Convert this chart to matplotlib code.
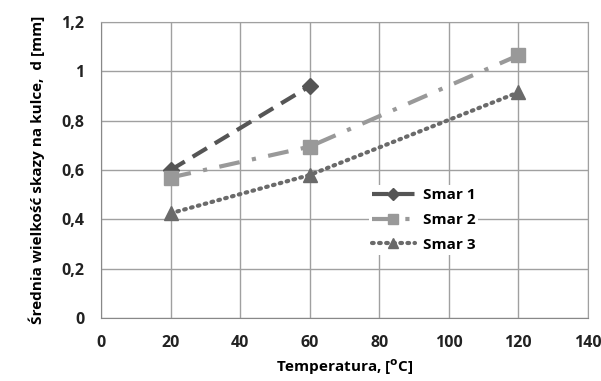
import matplotlib.pyplot as plt
from matplotlib.ticker import FuncFormatter, MultipleLocator

# data
temp_1 = [20, 60]
smar_1 = [0.60, 0.94]
temp_2 = [20, 60, 120]
smar_2 = [0.57, 0.695, 1.065]
temp_3 = [20, 60, 120]
smar_3 = [0.425, 0.58, 0.915]

plt.rcParams['font.family'] = ['Open Sans', 'DejaVu Sans']
plt.rcParams['font.weight'] = 'bold'

fig = plt.figure(figsize=(6.01, 3.81), dpi=100)
ax = fig.add_axes([0.168, 0.165, 0.81, 0.777])

ax.plot(temp_1, smar_1, color='#555555', lw=3, dashes=(4, 2.2),
        marker='D', ms=8, label='Smar 1')
ax.plot(temp_2, smar_2, color='#999999', lw=3, dashes=(5, 3, 1, 3),
        marker='s', ms=10, label='Smar 2')
ax.plot(temp_3, smar_3, color='#6a6a6a', lw=3, dashes=(0.4, 1.3),
        dash_capstyle='round', marker='^', ms=10, label='Smar 3')

ax.set_xlim(0, 140)
ax.set_ylim(0, 1.2)
ax.xaxis.set_major_locator(MultipleLocator(20))
ax.yaxis.set_major_locator(MultipleLocator(0.2))
ax.yaxis.set_major_formatter(FuncFormatter(lambda v, p: f"{v:g}".replace('.', ',')))

ax.grid(True, color='#a0a0a0', lw=1)
ax.set_axisbelow(True)
for s in ax.spines.values():
    s.set_color('#a0a0a0')
ax.spines['left'].set_color('#888888')
ax.spines['bottom'].set_color('#888888')
ax.tick_params(length=0, labelsize=11.5, colors='#222222', pad=12)

ax.set_xlabel('Temperatura, [$^{\\mathrm{o}}$C]', fontsize=11, fontweight='bold', labelpad=5)
ax.set_ylabel('Średnia wielkość skazy na kulce,  d [mm]', fontsize=11, fontweight='bold', labelpad=12)

leg = ax.legend(loc='upper left', bbox_to_anchor=(0.535, 0.475), frameon=True,
                fontsize=11, handlelength=2.8, borderpad=0.2, labelspacing=0.7,
                handletextpad=0.5, markerscale=0.75)
leg.get_frame().set_edgecolor('none')
leg.get_frame().set_facecolor('white')
leg.get_frame().set_alpha(1)

fig.savefig('out.png', dpi=100)
